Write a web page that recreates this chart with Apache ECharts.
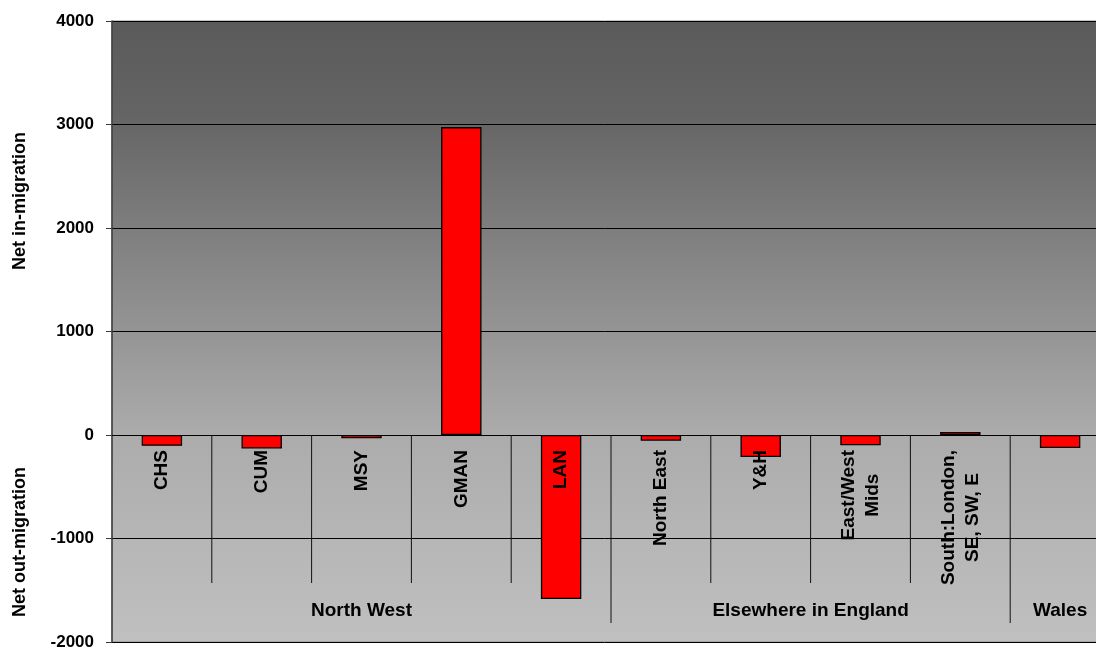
<!DOCTYPE html>
<html>
<head>
<meta charset="utf-8">
<script src="https://cdn.jsdelivr.net/npm/echarts@6/dist/echarts.min.js"></script>
<style>
  html, body { margin: 0; padding: 0; background: #ffffff; }
  #chart { width: 1096px; height: 647px; }
</style>
</head>
<body>
<div id="chart"></div>
<script>
// Net migration by area
const categories = ['CHS', 'CUM', 'MSY', 'GMAN', 'LAN', 'North East', 'Y&H',
  'East/West Mids', 'South:London, SE, SW, E', 'Wales'];
// Labels written under each bar (Wales is named by its group label only)
const categoryLabels = ['CHS', 'CUM', 'MSY', 'GMAN', 'LAN', 'North East', 'Y&H',
  'East/West\nMids', 'South:London,\nSE, SW, E', ''];
const netMigration = [-105, -130, -32, 2975, -1585, -55, -212, -100, 29, -126];
const groupNames = ['North West', 'Elsewhere in England', 'Wales'];
const groupSizes = [5, 4, 1];
const yTitles = ['Net in-migration', 'Net out-migration'];

const FONT = '"Liberation Sans", Arial, sans-serif';
const LABEL_FONT = 'bold 19px ' + FONT;

// Positions in category-band units: boundaries between categories (short),
// between groups (long), and group label centres
const decor = [];
let start = 0;
groupSizes.forEach((size, g) => {
  for (let i = 1; i < size; i++) decor.push([0, 'sep', '', start + i]);
  if (g < groupSizes.length - 1) decor.push([0, 'group', '', start + size]);
  decor.push([0, 'label', groupNames[g], start + size / 2]);
  start += size;
});

// Category names, written upwards just below the zero line
const catLabels = categoryLabels.map((name, i) => [i, name]);

const chart = echarts.init(document.getElementById('chart'));

chart.setOption({
  animation: false,
  backgroundColor: '#ffffff',
  grid: {
    left: 112, top: 21, width: 998, height: 621,
    outerBoundsMode: 'none',
    containLabel: false,
    show: true,
    borderColor: '#8a8a8a', borderWidth: 1,
    backgroundColor: {
      type: 'linear', x: 0, y: 0, x2: 0, y2: 1,
      colorStops: [
        { offset: 0, color: '#5a5a5a' },
        { offset: 0.15, color: '#646464' },
        { offset: 0.4, color: '#878787' },
        { offset: 0.67, color: '#acacac' },
        { offset: 1, color: '#c0c0c0' }
      ]
    }
  },
  xAxis: {
    type: 'category',
    data: categories,
    position: 'bottom',
    axisLine: { show: true, onZero: true, lineStyle: { color: '#000', width: 1 } },
    axisTick: { show: false },
    splitLine: { show: false },
    axisLabel: { show: false }
  },
  yAxis: {
    type: 'value',
    min: -2000, max: 4000, interval: 1000,
    axisLine: { show: true, lineStyle: { color: '#3a3a3a', width: 1.5 } },
    axisTick: { show: true, length: 6, lineStyle: { color: '#3a3a3a' } },
    splitLine: { show: true, lineStyle: { color: '#000', width: 1 } },
    axisLabel: {
      margin: 18, color: '#000', fontSize: 17, fontWeight: 'bold', fontFamily: FONT,
      formatter: v => String(v)
    }
  },
  series: [{
    type: 'bar',
    data: netMigration,
    barWidth: '40.5%',
    itemStyle: { color: '#ff0000', borderColor: '#000', borderWidth: 1.3 }
  }, {
    type: 'custom',
    data: decor,
    silent: true,
    z: 5,
    renderItem: (params, api) => {
      const item = decor[params.dataIndex];
      const kind = item[1];
      const band = api.size([1, 0])[0];
      const p0 = api.coord([0, 0]);
      const x = p0[0] + (item[3] - 0.5) * band;
      const y = p0[1];
      if (kind === 'label') {
        return {
          type: 'text',
          x: x, y: y + 176,
          style: {
            text: item[2],
            fill: '#000',
            font: LABEL_FONT,
            textAlign: 'center',
            textVerticalAlign: 'middle'
          }
        };
      }
      const len = kind === 'group' ? 188 : 148;
      return {
        type: 'line',
        shape: { x1: x, y1: y, x2: x, y2: y + len },
        style: { stroke: '#111', lineWidth: 1 }
      };
    }
  }, {
    type: 'custom',
    data: catLabels,
    silent: true,
    z: 6,
    renderItem: (params, api) => {
      const name = catLabels[params.dataIndex][1];
      const p = api.coord([api.value(0), 0]);
      const multi = name.includes('\n');
      return {
        type: 'text',
        x: p[0], y: p[1] + 15,
        rotation: Math.PI / 2,
        style: {
          text: multi ? name.split('\n').map(s => '{c|' + s + '}').join('\n') : name,
          fill: '#000',
          font: LABEL_FONT,
          textAlign: 'right',
          textVerticalAlign: 'middle',
          lineHeight: 24,
          rich: {
            c: { align: 'center', fill: '#000', font: LABEL_FONT, lineHeight: 24 }
          }
        }
      };
    }
  }],
  graphic: [{
    type: 'text', x: 20, y: 201, rotation: Math.PI / 2,
    style: { text: yTitles[0], fill: '#000', font: 'bold 18px ' + FONT,
             textAlign: 'center', textVerticalAlign: 'middle' }
  }, {
    type: 'text', x: 20, y: 542, rotation: Math.PI / 2,
    style: { text: yTitles[1], fill: '#000', font: 'bold 18px ' + FONT,
             textAlign: 'center', textVerticalAlign: 'middle' }
  }]
});
</script>
</body>
</html>
